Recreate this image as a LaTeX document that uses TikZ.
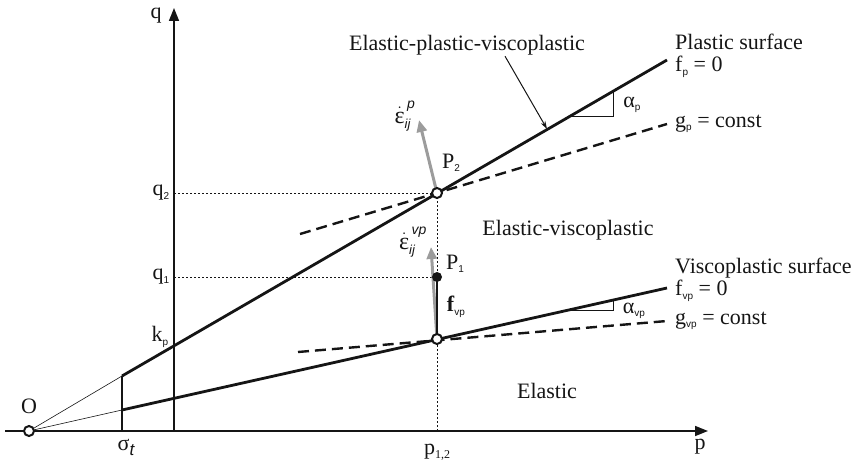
\documentclass[tikz,border=0pt]{standalone}
\usepackage{fontspec}
\setmainfont{Liberation Serif}
\setsansfont{Liberation Sans}
\usetikzlibrary{arrows.meta,positioning,calc}
\definecolor{cInk}{HTML}{151515}
\definecolor{cFlow}{HTML}{9C9C9C}
\newcommand{\subidx}[1]{\raisebox{-0.35ex}{\fontsize{10}{10}\selectfont\sffamily #1}}
\newcommand{\strn}[1]{$\dot{\mbox{\fontsize{24}{26}\selectfont ε}}_{\mbox{\fontsize{13}{13}\selectfont\sffamily\itshape ij}}^{\raisebox{4pt}{\fontsize{14}{14}\selectfont\sffamily\itshape\,#1}}$}
\tikzset{
  axis/.style={line width=1.6pt,draw=cInk,-{Triangle[length=13pt,width=10pt]}},
  surf/.style={line width=2.8pt,draw=cInk},
  potl/.style={line width=2.4pt,draw=cInk,dash pattern=on 11pt off 6pt},
  guide/.style={line width=0.9pt,draw=cInk,dash pattern=on 2pt off 2pt},
  ray/.style={line width=0.6pt,draw=cInk},
  note/.style={line width=1pt,draw=cInk,-{Stealth[length=8pt,width=5pt]}},
  flow/.style={line width=3pt,draw=cFlow,-{Triangle[length=12pt,width=10pt]}},
  ang/.style={line width=1pt,draw=cInk},
  ptopen/.style={circle,draw=cInk,line width=2pt,fill=white,minimum size=10pt,inner sep=0pt},
  ptfull/.style={circle,fill=cInk,minimum size=10pt,inner sep=0pt},
  lab/.style={font=\fontsize{22}{25}\selectfont,text=cInk,inner sep=1pt},
  labw/.style={lab,anchor=west},
}
\begin{document}
\begin{tikzpicture}[x=1pt,y=-1pt]
  \useasboundingbox (0,0) rectangle (861,468);

  \coordinate (O) at (29,431);
  \coordinate (st) at (122,431);
  \coordinate (sp) at (122,376);
  \coordinate (sv) at (122,410);
  \coordinate (P2) at (437,193);
  \coordinate (Pv) at (437,339);
  \coordinate (P1) at (437,277);
  \coordinate (fpend) at (667,60);
  \coordinate (fvend) at (667,288);
  \coordinate (gpa) at (300,234);
  \coordinate (gpb) at (667,124);
  \coordinate (gva) at (298,352);
  \coordinate (gvb) at (667,321);
  \coordinate (q2) at (174,193);
  \coordinate (q1) at (174,277);
  \coordinate (p12) at (437,431);
  \coordinate (hit) at (547,129);

  % guides
  \draw[guide] (q2) -- (P2);
  \draw[guide] (q1) -- (P1);
  \draw[guide] (p12) -- (P2);

  % axes
  \draw[axis] (5,431) -- (708,431);
  \draw[axis] (174,431) -- (174,8);

  % rays from O
  \draw[ray] (O) -- (sp);
  \draw[ray] (O) -- (sv);

  % surfaces
  \draw[surf] (st) -- (sp);
  \draw[surf] (sp) -- (fpend);
  \draw[surf] (sv) -- (fvend);
  \draw[potl] (gpa) -- (gpb);
  \draw[potl] (gva) -- (gvb);

  % slope marks
  \draw[ang] (568,117) -- (613,117) -- (613,91);
  \draw[ang] (566,310) -- (613,310) -- (613,299);

  % flow vectors
  \draw[flow] (P2) -- (419,120);
  \draw[flow] (Pv) -- (431,247);
  \draw[surf] (Pv) -- (P1);

  % points
  \node[ptopen] (nO) at (O) {};
  \node[ptopen] (nP2) at (P2) {};
  \node[ptopen] (nPv) at (Pv) {};
  \node[ptfull] (nP1) at (P1) {};

  % axis labels
  \node[lab] (lq) at (156,16) {q};
  \node[lab] (lq2) at (161,193) {q\subidx{2}};
  \node[lab] (lq1) at (161,277) {q\subidx{1}};
  \node[lab] (lkp) at (160,337) {k\subidx{p}};
  \node[lab] (lO) at (29,406) {O};
  \node[lab] (lst) at (126,447) {σ\raisebox{-0.5ex}{\fontsize{17}{17}\selectfont\sffamily\itshape t}};
  \node[lab] (lp12) at (437,452) {p\raisebox{-0.35ex}{\fontsize{12}{12}\selectfont 1,2}};
  \node[lab] (lp) at (700,447) {p};

  % region and point labels
  \node[lab] (lepv) at (467,45) {Elastic-plastic-viscoplastic};
  \node[lab] (lev) at (568,230) {Elastic-viscoplastic};
  \node[lab] (lel) at (547,391) {Elastic};
  \node[lab] (lP2) at (451,163) {P\subidx{2}};
  \node[lab] (lP1) at (455,264) {P\subidx{1}};
  \node[lab] (lfvp) at (456,307) {\textbf{f}\subidx{vp}};
  \node[lab] (lepsp) at (405,116) {\strn{p}};
  \node[lab] (lepsv) at (413,242) {\strn{vp}};

  % surface labels
  \node[labw] (lps) at (674,42) {Plastic surface};
  \node[labw] (lfp) at (674,67) {f\subidx{p} = 0};
  \node[labw] (lgp) at (674,124) {g\subidx{p} = const};
  \node[labw] (lvs) at (674,268) {Viscoplastic surface};
  \node[labw] (lfv) at (674,291) {f\subidx{vp} = 0};
  \node[labw] (lgv) at (674,321) {g\subidx{vp} = const};
  \node[lab] (lap) at (632,105) {α\subidx{p}};
  \node[lab] (lav) at (634,311) {α\subidx{vp}};

  \draw[note] ([xshift=38pt]lepv.south) -- (hit);
\end{tikzpicture}
\end{document}
